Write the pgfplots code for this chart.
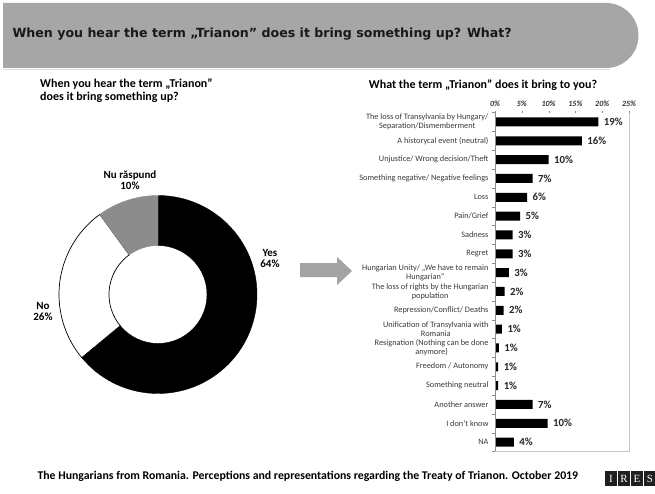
\documentclass[border=0pt]{standalone}
\usepackage{pgfplots}
\pgfplotsset{compat=1.18}
\usepackage{pgfplotstable}
\usepackage{fontspec}
\setmainfont{Carlito}
\newfontfamily\titlefont{DejaVu Sans}
\newfontfamily\logofont{Liberation Serif}
\definecolor{bannergray}{HTML}{A6A6A6}
\definecolor{arrowgray}{HTML}{A3A3A3}
\definecolor{nrgray}{HTML}{8C8C8C}
\definecolor{labgray}{HTML}{3A3A3A}

\pgfplotstableread{
i v lab
1 19.3 19
2 16.2 16
3 10.0 10
4 7.0 7
5 6.0 6
6 4.7 5
7 3.3 3
8 3.3 3
9 2.6 3
10 1.8 2
11 1.6 2
12 1.3 1
13 0.7 1
14 0.6 1
15 0.6 1
16 7.0 7
17 9.8 10
18 3.5 4
}\bardata

% donut data (percent)
\def\pYes{64}
\def\pNo{26}
\def\pNR{10}
\pgfmathsetmacro\aYes{90-3.6*\pYes}
\pgfmathsetmacro\aNo{\aYes-3.6*\pNo}
\pgfmathsetmacro\aNR{\aNo-3.6*\pNR}

\newcommand{\slice}[3]{%
  \filldraw[#3] ([shift={(#1:99pt)}]axis cs:0,0) arc[start angle=#1,end angle=#2,radius=99pt]
    -- ([shift={(#2:49pt)}]axis cs:0,0) arc[start angle=#2,end angle=#1,radius=49pt] -- cycle;}

\begin{document}
\begin{tikzpicture}[x=1pt,y=1pt]
\useasboundingbox (0,0) rectangle (655,493);
\fill[white] (0,0) rectangle (655,493);
% banner
\fill[bannergray] (3,425) -- (606,425) arc[start angle=-90,end angle=90,radius=32.5] -- (3,490) -- cycle;
\draw[black!12, line width=1pt] (3,423.5) -- (610,423.5);
\node[anchor=west, font=\titlefont\bfseries\fontsize{12.6}{14}\selectfont, text=black!90] at (9,459) {When you hear the term „Trianon” does it bring something up? What?};

% left subtitle
\node[anchor=north west, align=left, font=\bfseries\fontsize{12}{13}\selectfont, inner sep=0pt] at (40,414) {When you hear the term „Trianon”\\does it bring something up?};

% donut
\begin{axis}[at={(158pt,198.5pt)}, anchor=center, hide axis, scale only axis,
  width=200pt, height=200pt, xmin=-100, xmax=100, ymin=-100, ymax=100, clip=false]
\addplot[draw=none] coordinates {(0,0)};
\slice{\aYes}{90}{fill=black, draw=black}
\slice{\aNo}{\aYes}{fill=white, draw=black, line width=0.7pt}
\slice{\aNR}{\aNo}{fill=nrgray, draw=nrgray}
\end{axis}
\node[align=center, font=\bfseries\fontsize{11}{11}\selectfont] at (130,313) {Nu răspund\\10\%};
\node[align=center, font=\bfseries\fontsize{11}{11}\selectfont] at (270,235) {Yes\\64\%};
\node[align=center, font=\bfseries\fontsize{11}{11}\selectfont] at (43,182) {No\\26\%};

% arrow
\fill[arrowgray] (300,230) -- (337,230) -- (337,236) -- (352,222) -- (337,208) -- (337,216) -- (300,216) -- cycle;

% bar chart title
\node[font=\bfseries\fontsize{12}{13}\selectfont] at (483,408) {What the term „Trianon” does it bring to you?};

\begin{axis}[at={(495pt,41.5pt)}, anchor=south west, scale only axis,
  width=134pt, height=339pt,
  xbar, bar width=9pt,
  xmin=0, xmax=25, ymin=0.5, ymax=18.5, y dir=reverse,
  axis line style={draw=none},
  /pgf/number format/assume math mode=true,
  xtick={0,5,10,15,20,25}, xticklabel pos=upper, xtick pos=upper,
  xticklabel={\pgfmathprintnumber{\tick}\%},
  xticklabel style={font=\itshape\bfseries\fontsize{8}{9}\selectfont, text=black!80},
  ytick={1,...,18}, ytick pos=left,
  minor ytick={0.5,1.5,...,18.5},
  major tick length=2pt, minor tick length=3pt,
  tick align=outside,
  tick style={black!45},
  major y tick style={draw=none},
  yticklabel style={align=center, font=\fontsize{8.3}{9}\selectfont, text=labgray, xshift=-1pt},
  yticklabels={{The loss of Transylvania by Hungary/\\Separation/Dismemberment},
    {A historycal event (neutral)},
    {Unjustice/ Wrong decision/Theft},
    {Something negative/ Negative feelings},
    {Loss},{Pain/Grief},{Sadness},{Regret},
    {Hungarian Unity/ „We have to remain\\Hungarian”},
    {The loss of rights by the Hungarian\\population},
    {Repression/Conflict/ Deaths},
    {Unification of Transylvania with\\Romania},
    {Resignation (Nothing can be done\\anymore)},
    {Freedom / Autonomy},{Something neutral},
    {Another answer},{I don't know},{NA}},
  nodes near coords={\pgfplotspointmeta\%},
  point meta=explicit symbolic,
  nodes near coords style={font=\bfseries\fontsize{10.8}{10.8}\selectfont, text=black!85, anchor=west, xshift=2pt},
  clip=false]
\addplot[fill=black, draw=none] table[x=v, y=i, meta=lab] {\bardata};
\draw[black!45] (rel axis cs:0,0) -- (rel axis cs:0,1);
\draw[black!22] (rel axis cs:0,0) -- (rel axis cs:1,0) -- (rel axis cs:1,1);
\end{axis}

% footer
\node[anchor=west, font=\bfseries\fontsize{11.8}{13}\selectfont] at (34,17) {The Hungarians from Romania. Perceptions and representations regarding the Treaty of Trianon. October 2019};

% logo
\foreach \i/\l in {0/I,1/R,2/E,3/S}{
  \fill[black!88] (605+13*\i,7) rectangle ++(12,15);
  \node[text=white, font=\logofont\fontsize{11}{11}\selectfont] at (611+13*\i,14.5) {\l};
}
\end{tikzpicture}
\end{document}
